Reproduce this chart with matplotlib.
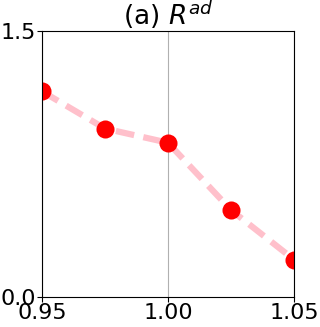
import matplotlib
matplotlib.use('Agg')
import matplotlib.pyplot as plt

x_vals = [0.95, 0.975, 1.00, 1.025, 1.05]
r_ad = [1.16, 0.95, 0.87, 0.49, 0.21]
x_ticks = [0.95, 1.00, 1.05]
y_ticks = [0.0, 1.5]

fig, ax = plt.subplots(figsize=(3.2, 3.27), dpi=100)
fig.subplots_adjust(left=0.131, right=0.919, top=0.905, bottom=0.092)

ax.plot(x_vals, r_ad, linestyle='--', color='pink', linewidth=4.5, dashes=(3, 1.5),
        marker='o', markersize=13, markerfacecolor='red', markeredgecolor='red',
        markeredgewidth=0)

ax.set_xlim(0.95, 1.05)
ax.set_ylim(0, 1.5)
ax.set_xticks(x_ticks)
ax.set_xticklabels(['0.95', '1.00', '1.05'])
ax.set_yticks(y_ticks)
ax.set_yticklabels(['0.0', '1.5'])
ax.tick_params(labelsize=16, pad=1)
ax.grid(axis='x', color='#b0b0b0', linewidth=0.8)
ax.set_axisbelow(True)
ax.set_title('(a) $R^{ad}$', fontsize=19, pad=3)

fig.savefig('out.png', dpi=100)
